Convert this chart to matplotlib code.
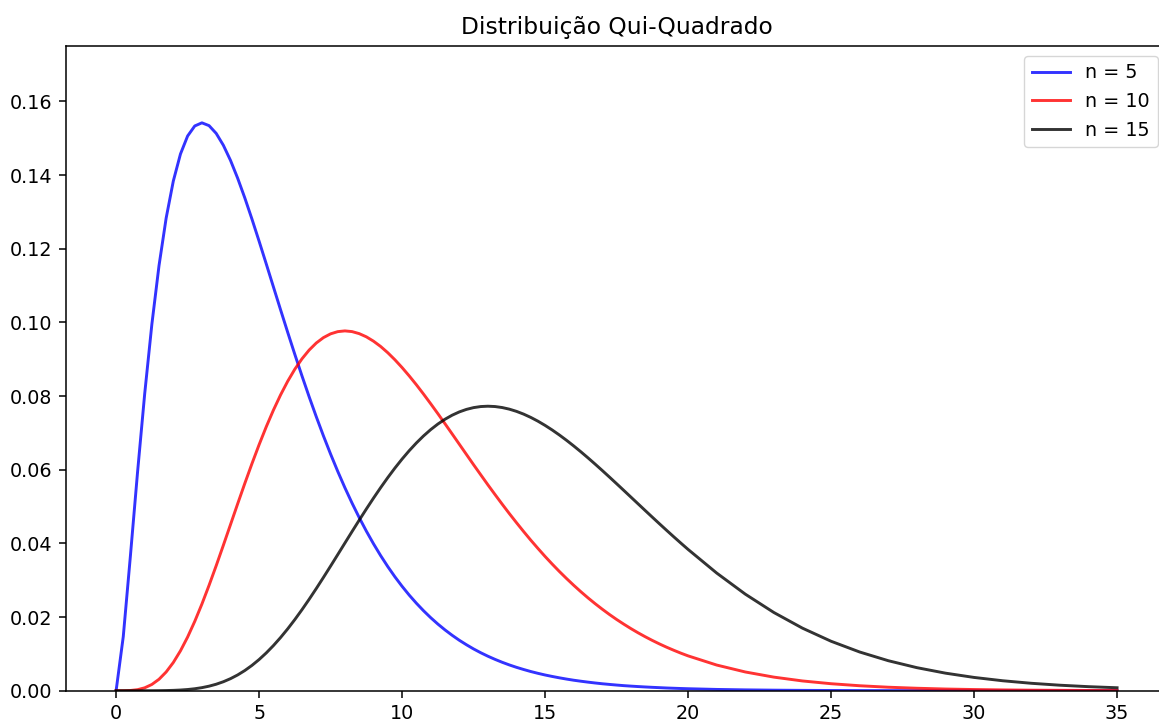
import matplotlib.pyplot as plt

# pontos (x de 0 a 20 de 0.25 em 0.25, depois de 21 a 35)
x = [0, 0.25, 0.5, 0.75, 1, 1.25, 1.5, 1.75, 2, 2.25, 2.5, 2.75, 3, 3.25, 3.5, 3.75,
     4, 4.25, 4.5, 4.75, 5, 5.25, 5.5, 5.75, 6, 6.25, 6.5, 6.75, 7, 7.25, 7.5, 7.75,
     8, 8.25, 8.5, 8.75, 9, 9.25, 9.5, 9.75, 10, 10.25, 10.5, 10.75, 11, 11.25, 11.5, 11.75,
     12, 12.25, 12.5, 12.75, 13, 13.25, 13.5, 13.75, 14, 14.25, 14.5, 14.75, 15, 15.25, 15.5, 15.75,
     16, 16.25, 16.5, 16.75, 17, 17.25, 17.5, 17.75, 18, 18.25, 18.5, 18.75, 19, 19.25, 19.5, 19.75,
     20, 21, 22, 23, 24, 25, 26, 27, 28, 29, 30, 31, 32, 33, 34, 35]

n5 = [0, 0.01467, 0.03662, 0.05936, 0.08066, 0.09948, 0.11540, 0.12833, 0.13837, 0.14571,
      0.15060, 0.15333, 0.15418, 0.15342, 0.15131, 0.14809, 0.14398, 0.13915, 0.13380, 0.12805,
      0.12204, 0.11588, 0.10965, 0.10344, 0.09730, 0.09129, 0.08545, 0.07980, 0.07437, 0.06918,
      0.06424, 0.05955, 0.05511, 0.05094, 0.04701, 0.04333, 0.03989, 0.03668, 0.03369, 0.03091,
      0.02834, 0.02595, 0.02375, 0.02171, 0.01983, 0.01810, 0.01651, 0.01505, 0.01370, 0.01248,
      0.01134, 0.01031, 0.00937, 0.00851, 0.00772, 0.00700, 0.00635, 0.00576, 0.00521, 0.00472,
      0.00427, 0.00387, 0.00350, 0.00316, 0.00285, 0.00258, 0.00233, 0.00210, 0.00189, 0.00171,
      0.00154, 0.00138, 0.00125, 0.00113, 0.00102, 0.00092, 0.00083, 0.00074, 0.00067, 0.00060,
      0.00054, 0.00035, 0.00023, 0.00015, 0.000096, 0.000062, 0.000040, 0.000026, 0.000016,
      0.000011, 0.0000067, 0.0000043, 0.0000027, 0.0000017, 0.0000011, 0.0000007]

n10 = [0, 0.0000045, 0.0000634, 0.000283, 0.00079, 0.00170, 0.00311, 0.00509, 0.00766, 0.01083,
       0.01457, 0.01883, 0.02353, 0.02861, 0.03395, 0.03949, 0.04511, 0.05074, 0.05628, 0.06165,
       0.06680, 0.07166, 0.07617, 0.08030, 0.08402, 0.08730, 0.09012, 0.09249, 0.09441, 0.09587,
       0.09689, 0.09749, 0.09769, 0.09750, 0.09695, 0.09608, 0.09490, 0.09346, 0.09176, 0.08984,
       0.08773, 0.08546, 0.08306, 0.08053, 0.07791, 0.07523, 0.07249, 0.06972, 0.06693, 0.06414,
       0.06135, 0.05862, 0.05590, 0.05325, 0.05064, 0.04809, 0.04562, 0.04321, 0.04087, 0.03863,
       0.03645, 0.03437, 0.03237, 0.03046, 0.02863, 0.02688, 0.02521, 0.02363, 0.02213, 0.02070,
       0.01935, 0.01808, 0.01687, 0.01573, 0.01466, 0.01365, 0.01270, 0.01181, 0.01098, 0.01019,
       0.00946, 0.00697, 0.00509, 0.00369, 0.00265, 0.00190, 0.00135, 0.00095, 0.00067, 0.00046,
       0.00032, 0.00022, 0.00015, 0.00011, 0.000072, 0.000049]

n15 = [0, 0, 0.00000003, 0.0000003, 0.0000018, 0.0000067, 0.0000195, 0.0000468, 0.0000983,
       0.0001865, 0.000327, 0.000535, 0.000832, 0.001235, 0.001764, 0.002438, 0.003273, 0.004283,
       0.005481, 0.006874, 0.008467, 0.010260, 0.012252, 0.014434, 0.016797, 0.019328, 0.022010,
       0.024824, 0.027749, 0.030763, 0.033841, 0.036958, 0.040091, 0.043215, 0.046304, 0.049336,
       0.052287, 0.055138, 0.057869, 0.060463, 0.062903, 0.065177, 0.067272, 0.069178, 0.070889,
       0.072399, 0.073704, 0.074802, 0.075693, 0.076379, 0.076863, 0.077150, 0.077244, 0.077152,
       0.076882, 0.076443, 0.075843, 0.075093, 0.074199, 0.073178, 0.072032, 0.070779, 0.069426,
       0.067984, 0.066462, 0.064871, 0.063221, 0.061520, 0.059781, 0.058007, 0.056209, 0.054396,
       0.052573, 0.050748, 0.048926, 0.047113, 0.045315, 0.043537, 0.041783, 0.040057, 0.038361,
       0.031950, 0.026221, 0.021232, 0.016982, 0.013430, 0.010511, 0.008148, 0.006260, 0.004769,
       0.003606, 0.002707, 0.002018, 0.001495, 0.001101, 0.000806]

plt.rcParams['font.size'] = 13.8
plt.rcParams['axes.linewidth'] = 1.1
plt.rcParams['xtick.major.size'] = 4.9
plt.rcParams['ytick.major.size'] = 4.9
plt.rcParams['xtick.major.width'] = 1.1
plt.rcParams['ytick.major.width'] = 1.1
plt.rcParams['xtick.major.pad'] = 4.9
plt.rcParams['ytick.major.pad'] = 4.9

fig = plt.figure(figsize=(11.59, 7.21), dpi=100)
ax = fig.add_axes([0.057, 0.042, 0.95, 0.894])

ax.plot(x, n5, color='blue', alpha=0.8, lw=2.1, label='n = 5')
ax.plot(x, n10, color='red', alpha=0.8, lw=2.1, label='n = 10')
ax.plot(x, n15, color='black', alpha=0.8, lw=2.1, label='n = 15')

ax.set_xlim(-1.75, 36.75)
ax.set_ylim(0, 0.175)
ax.set_xticks([0, 5, 10, 15, 20, 25, 30, 35])
ax.set_yticks([0, 0.02, 0.04, 0.06, 0.08, 0.10, 0.12, 0.14, 0.16])
ax.yaxis.set_major_formatter(plt.FormatStrFormatter('%.2f'))
ax.set_title('Distribuição Qui-Quadrado', fontsize=16.8, pad=8.4)
ax.legend(loc='upper right')

fig.savefig('out.png')
